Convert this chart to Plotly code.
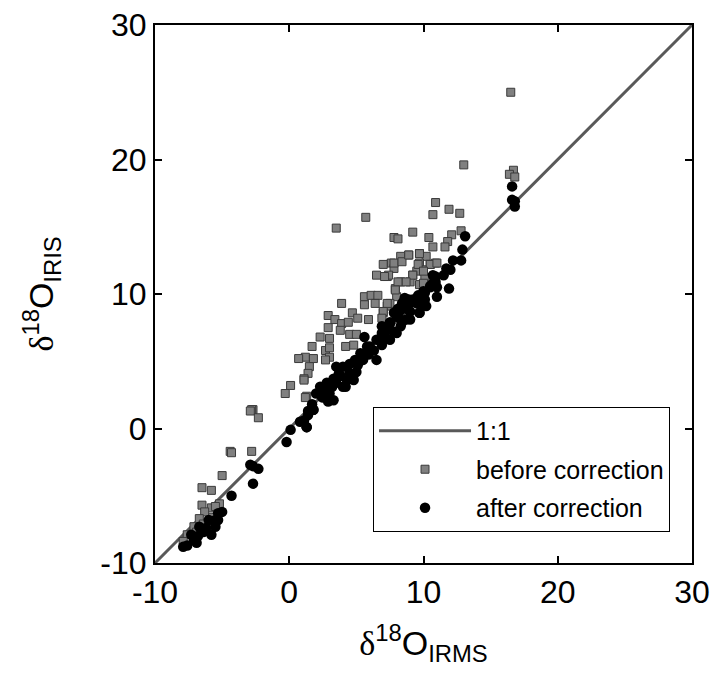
import plotly.graph_objects as go

# 1:1 reference line
one_to_one = [-10, 30]

# before correction (gray squares)
before_x = [16.5, 13.0, 16.7, 16.4, 16.8, 3.5, 5.7,
            10.9, 10.7, 11.9, 12.7, 9.2, 7.8, 8.1, 10.4, 12.1, 12.8, 11.8, 10.7, 11.6,
            8.9, 8.3, 9.7, 10.2, 7.6, 7.0, 7.8, 9.7, 10.5, 10.9, 9.5, 10.0, 9.2, 8.3,
            7.3, 7.9, 9.0, 10.1, 9.7, 8.0, 7.3, 7.5, 7.0,
            7.8, 8.4, 8.9, 9.7, 10.5, 11.0, 9.6, 10.0, 9.2, 8.7, 8.1, 7.4, 6.5, 7.1,
            7.9, 10.0, 3.9, 5.6, 6.1, 6.6, 5.6, 6.4, 7.3, 7.0, 6.9, 4.7, 5.1, 5.9,
            2.9, 3.4, 2.9, 3.9, 4.4, 3.8, 4.5, 5.0, 2.3, 3.0, 4.2, 4.8, 1.7, 2.7,
            3.0, 1.2, 1.8, 3.0, 2.7, 0.7, 1.5, 1.4, 1.1, 0.1, -0.3, 1.3, 1.1, 1.2,
            -2.7, -2.8, -2.9, -2.3, -4.4, -4.3, -2.8, -5.0, -6.5, -5.8,
            -6.5, -5.8, -5.2, -6.3, -6.7, -5.7, -6.4, -7.1, -7.6, -7.9, -6.9, -6.0, -5.5]
before_y = [25.0, 19.6, 19.2, 18.9, 18.7, 14.9, 15.7,
            16.8, 15.9, 16.3, 16.0, 14.6, 14.2, 14.1, 14.2, 14.4, 14.7, 13.9, 13.5, 13.5,
            12.9, 12.8, 13.0, 12.8, 12.3, 12.2, 11.9, 12.3, 12.2, 12.3, 11.7, 11.8, 11.4, 10.9,
            11.3, 10.4, 10.9, 11.2, 10.7, 9.8, 9.1, 9.3, 8.6,
            12.3, 12.4, 12.9, 13.0, 12.2, 12.3, 12.2, 11.7, 11.4, 10.9, 10.9, 11.4, 11.4, 11.3,
            10.3, 10.8, 9.3, 9.8, 9.9, 9.9, 9.2, 9.3, 9.3, 8.7, 8.2, 8.6, 8.2, 8.1,
            8.4, 8.1, 7.5, 7.8, 7.9, 7.3, 7.0, 7.0, 6.8, 6.7, 6.1, 6.2, 6.1, 5.8,
            6.0, 5.3, 5.2, 5.3, 5.1, 5.2, 4.6, 4.1, 3.7, 3.2, 2.6, 2.4, 3.6, 2.3,
            1.4, 1.4, 1.3, 0.8, -1.7, -1.8, -1.7, -3.5, -4.4, -4.6,
            -5.7, -5.9, -5.6, -6.2, -6.7, -6.6, -7.1, -7.3, -7.9, -8.4, -7.7, -7.3, -5.8]

# after correction (black circles)
after_x = [16.6, 16.6, 16.8, 16.8, 13.1, 12.9, 12.8, 12.2, 11.7, 12.0, 11.5, 11.9,
           10.9, 10.7, 10.5, 11.0, 10.1, 9.7, 9.2, 10.0, 8.5, 8.8, 8.3, 9.7, 9.0,
           8.0, 7.5, 7.8, 7.3, 7.0, 8.3, 10.2,
           10.7, 10.9, 10.5, 10.0, 9.6, 9.2, 8.6, 8.4, 8.1, 7.8, 9.0, 7.5, 7.3, 6.9,
           6.5, 6.9, 6.3, 5.9, 5.5, 5.1, 5.6, 5.0, 4.5, 4.3, 4.8, 3.8, 4.2, 3.5, 3.5,
           3.2, 3.0, 2.7, 2.4, 2.9, 1.8, 1.4, 1.1, 1.3, 0.8, 0.1, -0.2, 9.7, 8.7, 8.0,
           7.5, 6.5, 6.0, 8.9,
           6.9, 7.1, 5.8, 5.3, 4.9, 4.5, 4.0, 3.7, 3.3, 2.8, 2.5, 2.0, 1.7, 9.5, 10.1,
           11.0, 8.1, 8.4,
           1.3, 1.4, 1.8, 2.3, 2.8, 3.3, 4.0, 2.5,
           -2.9, -2.3, -2.7, -2.7, -4.3, -5.0, -5.3, -5.5, -6.2, -6.4, -6.8, -7.1,
           -7.6, -7.9, -5.8, -5.5, -6.0, -5.3, -6.7, -7.3, -6.9]
after_y = [18.0, 17.0, 16.9, 16.5, 14.3, 13.3, 12.5, 12.5, 11.9, 11.8, 11.4, 10.4,
           11.3, 10.8, 10.6, 9.8, 10.1, 9.7, 9.4, 9.2, 9.4, 8.9, 8.8, 8.6, 8.1,
           8.3, 7.8, 7.2, 7.3, 6.6, 7.6, 9.1,
           11.4, 10.9, 10.5, 10.2, 9.9, 9.6, 9.7, 9.3, 8.9, 8.6, 8.7, 7.9, 7.5, 7.1,
           6.6, 6.2, 5.8, 5.5, 5.1, 4.7, 6.8, 4.2, 4.1, 3.6, 3.6, 3.9, 3.1, 4.6, 3.4,
           3.1, 2.6, 2.7, 2.4, 2.0, 1.4, 1.0, 0.6, 0.1, 0.5, -0.1, -1.0, 8.6, 8.1, 7.1,
           6.6, 5.1, 6.1, 9.6,
           7.6, 6.7, 6.1, 5.6, 5.1, 4.8, 4.6, 4.1, 3.7, 3.4, 3.1, 2.6, 1.8, 9.3, 9.6,
           10.5, 8.3, 7.9,
           0.1, 1.3, 1.4, 3.1, 2.6, 2.1, 3.1, 2.3,
           -2.7, -3.0, -2.8, -4.1, -5.0, -6.2, -6.8, -7.3, -7.4, -7.7, -8.0, -8.3,
           -8.7, -8.8, -7.9, -6.8, -6.8, -6.3, -7.3, -7.9, -8.5]

tick_vals = [-10, 0, 10, 20, 30]
tick_text = ["-10", "0", "10", "20", "30"]

fig = go.Figure()
fig.add_scatter(x=one_to_one, y=one_to_one, mode="lines", name="1:1",
                legendgroup="a", line=dict(color="#595959", width=3))
fig.add_scatter(x=before_x, y=before_y, mode="markers", name="before correction",
                legendgroup="b",
                marker=dict(symbol="square", size=8, color="#808080",
                            line=dict(color="#3a3a3a", width=1)))
fig.add_scatter(x=after_x, y=after_y, mode="markers", name="after correction",
                legendgroup="c",
                marker=dict(symbol="circle", size=10.5, color="black", line=dict(width=0)))

axis_style = dict(
    range=[-10, 30], tickvals=tick_vals, ticktext=tick_text, ticks="inside",
    ticklen=7, tickwidth=2, tickcolor="black", showline=True, linewidth=2,
    linecolor="black", mirror="ticks", showgrid=False, zeroline=False,
    automargin=False, ticklabeloverflow="allow",
    tickfont=dict(size=32, color="black"),
)
fig.update_xaxes(**axis_style,
                 title=dict(text='<span style="font-family:Liberation Serif">δ</span>'
                                 '<sup>18</sup>O<sub>IRMS</sub>',
                            font=dict(size=34, color="black"), standoff=22))
fig.update_yaxes(**axis_style,
                 title=dict(text='<span style="font-family:Liberation Serif">δ</span>'
                                 '<sup>18</sup>O<sub>IRIS</sub>',
                            font=dict(size=34, color="black"), standoff=36))

# the page body adds an 8 px offset, so the figure is drawn at 710x685
fig.update_layout(
    width=710, height=685,
    font=dict(family="Arial, Liberation Sans", color="black"),
    paper_bgcolor="white", plot_bgcolor="white",
    margin=dict(l=147, r=26, t=17, b=130, autoexpand=False),
    showlegend=True,
    legend=dict(x=0.406, y=0.29, xanchor="left", yanchor="top",
                bgcolor="white", bordercolor="black", borderwidth=1,
                font=dict(size=25, color="black"), itemwidth=92,
                tracegroupgap=3),
)

fig.write_html("out.html")
